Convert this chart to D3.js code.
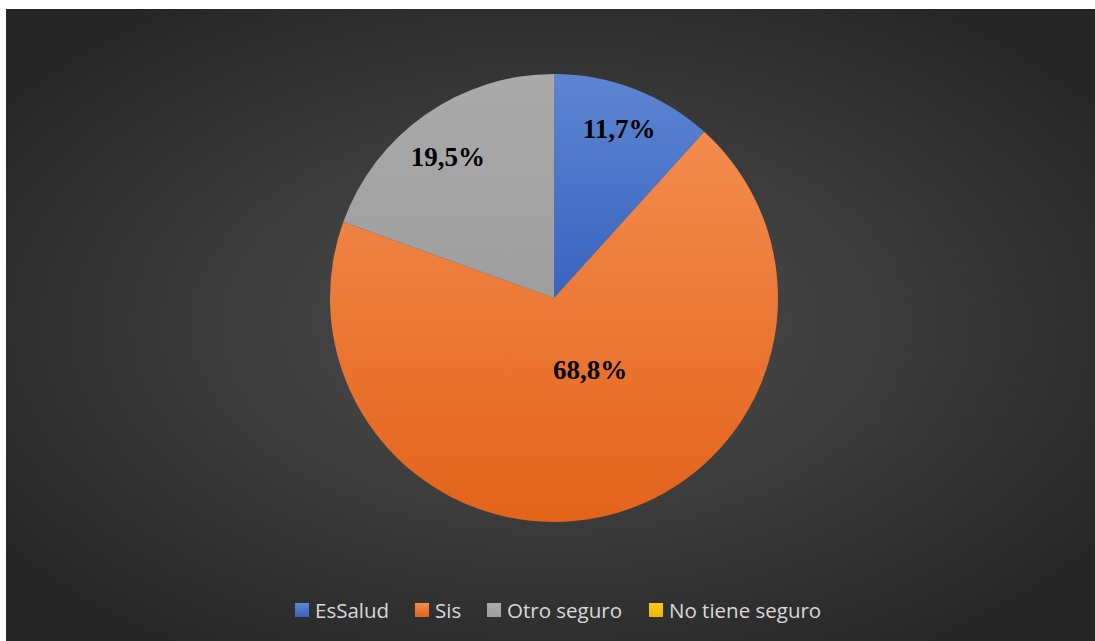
<!DOCTYPE html>
<html>
<head>
<meta charset="utf-8">
<script src="https://cdn.jsdelivr.net/npm/d3@7"></script>
<style>
  html, body { margin: 0; padding: 0; background: #ffffff; }
  svg { display: block; }
</style>
</head>
<body>
<script>
// Insurance coverage shares (percent)
const categories = ["EsSalud", "Sis", "Otro seguro", "No tiene seguro"];
const values = [11.7, 68.8, 19.5, 0];
const labelTexts = ["11,7%", "68,8%", "19,5%", ""];

const W = 1095, H = 641;
const svg = d3.select("body").append("svg").attr("width", W).attr("height", H);

const palette = [
  { top: "#5d85d2", bottom: "#3864bf" },
  { top: "#f38c4e", bottom: "#e3631a" },
  { top: "#aaaaaa", bottom: "#9e9e9e" },
  { top: "#ffc91a", bottom: "#f0b400" }
];

const defs = svg.append("defs");
const bg = defs.append("radialGradient").attr("id", "bg")
  .attr("cx", "50%").attr("cy", "50%").attr("r", "62%");
bg.append("stop").attr("offset", "0%").attr("stop-color", "#505050");
bg.append("stop").attr("offset", "100%").attr("stop-color", "#262626");

palette.forEach((p, i) => {
  const g = defs.append("linearGradient").attr("id", "g" + i)
    .attr("x1", 0).attr("y1", 0).attr("x2", 0).attr("y2", 1);
  g.append("stop").attr("offset", "0%").attr("stop-color", p.top);
  g.append("stop").attr("offset", "100%").attr("stop-color", p.bottom);
});

// chart area
svg.append("rect").attr("x", 6).attr("y", 9).attr("width", W - 6).attr("height", H - 9)
  .attr("fill", "url(#bg)");

const cx = 554, cy = 298, R = 224;
const pie = d3.pie().sort(null).value(d => d)(values);
const arc = d3.arc().innerRadius(0).outerRadius(R);

const g = svg.append("g").attr("transform", `translate(${cx},${cy})`);

// each slice's gradient spans the slice's own bounding box
g.selectAll("path.slice").data(pie).enter().append("path")
  .attr("class", "slice")
  .attr("d", arc)
  .attr("fill", (d, i) => `url(#g${i})`)
  .attr("stroke", "none");

// data labels
const labelRadius = [0.81, 0.36, 0.79, 0.8];
const labelAngleShift = [0, -0.22, -0.03, 0];
g.selectAll("text.lbl").data(pie).enter().append("text")
  .attr("class", "lbl")
  .attr("x", (d, i) => {
    const a = (d.startAngle + d.endAngle) / 2 + labelAngleShift[i];
    return Math.sin(a) * R * labelRadius[i];
  })
  .attr("y", (d, i) => {
    const a = (d.startAngle + d.endAngle) / 2 + labelAngleShift[i];
    return -Math.cos(a) * R * labelRadius[i];
  })
  .attr("dy", "0.34em")
  .attr("text-anchor", "middle")
  .attr("font-family", "'Liberation Serif', 'Times New Roman', serif")
  .attr("font-weight", "bold")
  .attr("font-size", 27)
  .attr("fill", "#000000")
  .text((d, i) => labelTexts[i]);

// legend
const legend = svg.append("g").attr("font-family", "'Open Sans', 'Noto Sans', sans-serif")
  .attr("font-size", 20.5).attr("fill", "#d9d9d9");
const legendX = [295, 415, 487, 649];
const items = legend.selectAll("g").data(categories).enter().append("g")
  .attr("transform", (d, i) => `translate(${legendX[i]},603)`);
items.append("rect").attr("width", 14).attr("height", 14)
  .attr("fill", (d, i) => `url(#g${i})`);
items.append("text").attr("x", 20).attr("y", 15).text(d => d);
</script>
</body>
</html>
